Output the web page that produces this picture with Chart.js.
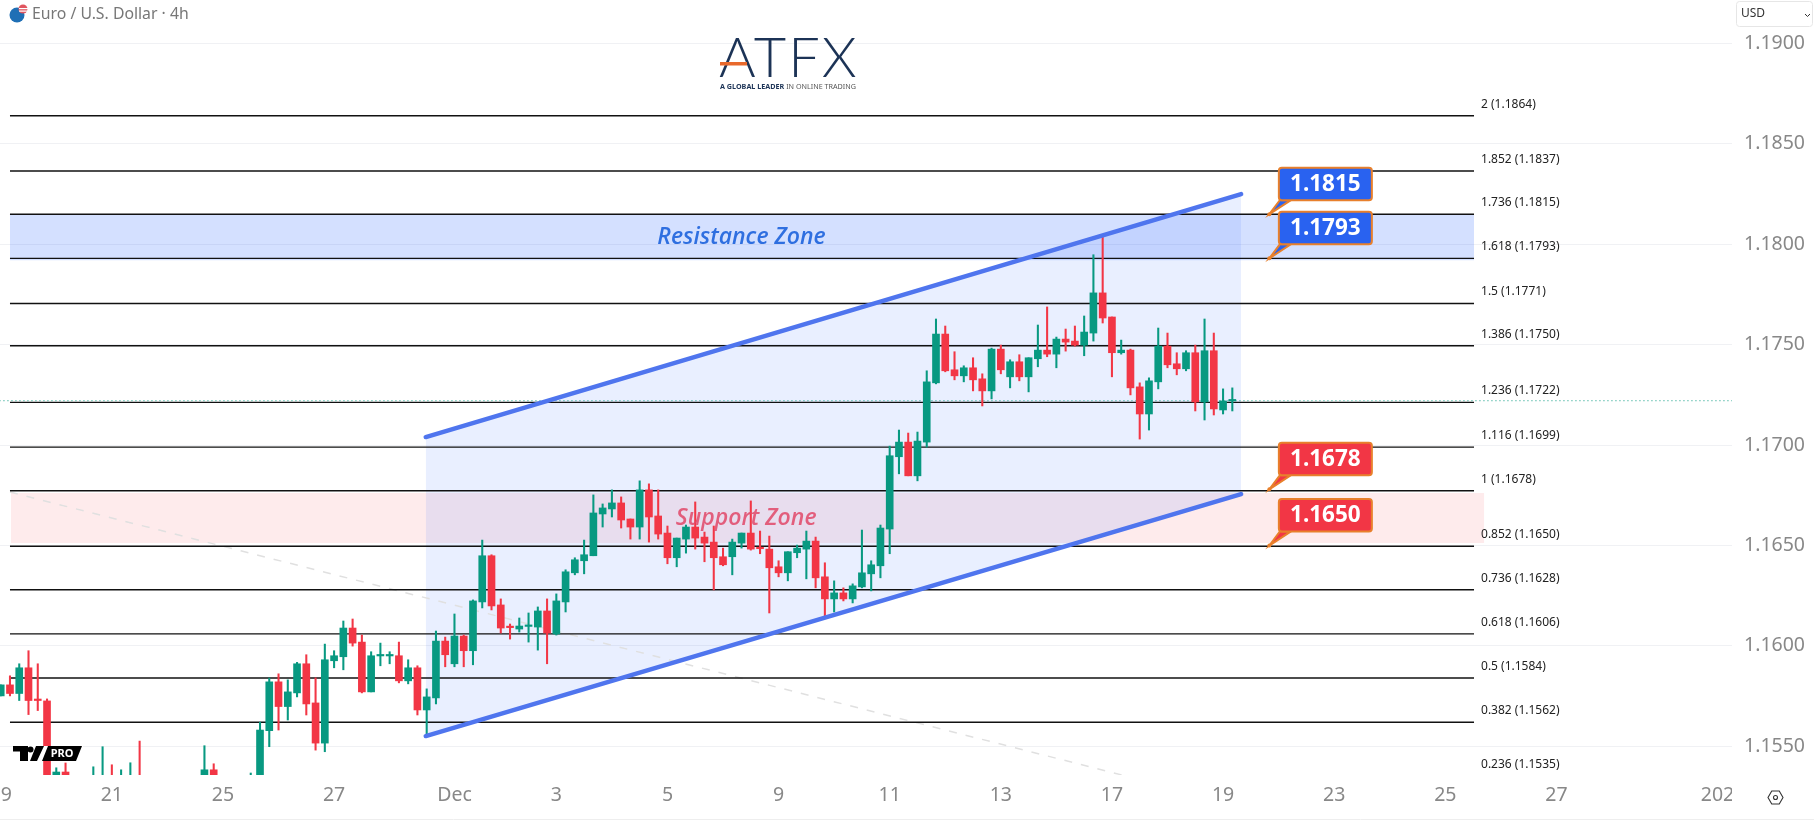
<!DOCTYPE html>
<html>
<head>
<meta charset="utf-8">
<title>Euro / U.S. Dollar 4h</title>
<script src="https://cdn.jsdelivr.net/npm/chart.js@4"></script>
<style>
  html, body { margin: 0; padding: 0; background: #fff; overflow: hidden; }
  #wrap { position: relative; width: 1814px; height: 821px; }
</style>
</head>
<body>
<div id="wrap"><canvas id="myChart"></canvas></div>
<script>
// candles, one entry per 4h bar (some sit below the visible range)
const opens = [1.15751,1.15806,1.15763,1.15891,1.15731,1.15726,1.15333,1.15372,1.15320,1.15285,
  1.15290,1.15300,1.15345,1.15290,1.15300,1.15340,1.15310,1.15300,1.15285,1.15310,
  1.15295,1.15320,1.15315,1.15383,1.15310,1.15325,1.15300,1.15330,1.15340,1.15578,
  1.15821,1.15698,1.15766,1.15911,1.15716,1.15516,1.15926,1.15946,1.16089,1.16019,
  1.15771,1.15950,1.15950,1.15951,1.15826,1.15891,1.15681,1.15741,1.16024,1.15911,
  1.16049,1.15976,1.16219,1.16449,1.16204,1.16094,1.16084,1.16097,1.16094,1.16174,
  1.16059,1.16219,1.16364,1.16424,1.16449,1.16657,1.16682,1.16712,1.16632,1.16592,
  1.16777,1.16647,1.16562,1.16439,1.16532,1.16592,1.16542,1.16517,1.16444,1.16444,
  1.16512,1.16562,1.16487,1.16482,1.16394,1.16364,1.16464,1.16482,1.16522,1.16344,
  1.16234,1.16264,1.16234,1.16294,1.16359,1.16399,1.16582,1.16942,1.17015,1.16847,
  1.17015,1.17310,1.17553,1.17375,1.17345,1.17385,1.17330,1.17270,1.17478,1.17340,
  1.17415,1.17340,1.17430,1.17473,1.17453,1.17528,1.17518,1.17498,1.17558,1.17758,
  1.17638,1.17460,1.17473,1.17290,1.17155,1.17315,1.17493,1.17405,1.17380,1.17460,
  1.17215,1.17470,1.17175,1.17220];
const highs = [1.15806,1.15851,1.15911,1.15976,1.15911,1.15736,1.15393,1.15417,1.15345,1.15340,
  1.15398,1.15498,1.15408,1.15383,1.15418,1.15526,1.15340,1.15335,1.15330,1.15345,
  1.15340,1.15350,1.15503,1.15413,1.15345,1.15350,1.15340,1.15367,1.15620,1.15840,
  1.15861,1.15831,1.15918,1.15956,1.15841,1.16009,1.15976,1.16124,1.16134,1.16054,
  1.15971,1.16014,1.15971,1.16019,1.15931,1.15901,1.15786,1.16074,1.16044,1.16159,
  1.16054,1.16229,1.16527,1.16454,1.16234,1.16109,1.16139,1.16164,1.16194,1.16234,
  1.16259,1.16379,1.16439,1.16527,1.16752,1.16707,1.16777,1.16742,1.16632,1.16822,
  1.16807,1.16777,1.16597,1.16537,1.16602,1.16717,1.16567,1.16597,1.16487,1.16532,
  1.16562,1.16722,1.16572,1.16547,1.16424,1.16469,1.16502,1.16572,1.16542,1.16414,
  1.16324,1.16289,1.16309,1.16577,1.16424,1.16602,1.16995,1.17075,1.17060,1.17065,
  1.17370,1.17628,1.17593,1.17465,1.17395,1.17435,1.17355,1.17483,1.17498,1.17425,
  1.17450,1.17435,1.17598,1.17688,1.17538,1.17578,1.17593,1.17643,1.17948,1.18043,
  1.17638,1.17523,1.17478,1.17310,1.17335,1.17583,1.17558,1.17460,1.17470,1.17498,
  1.17628,1.17558,1.17280,1.17285];
const lows = [1.15751,1.15751,1.15728,1.15658,1.15678,1.15323,1.15308,1.15303,1.15255,1.15230,
  1.15250,1.15270,1.15280,1.15260,1.15270,1.15280,1.15270,1.15260,1.15255,1.15275,
  1.15265,1.15280,1.15290,1.15280,1.15270,1.15280,1.15260,1.15290,1.15300,1.15498,
  1.15581,1.15631,1.15746,1.15656,1.15481,1.15473,1.15891,1.15881,1.15999,1.15766,
  1.15771,1.15901,1.15911,1.15816,1.15811,1.15656,1.15556,1.15711,1.15896,1.15896,
  1.15896,1.15906,1.16189,1.16179,1.16064,1.16034,1.16069,1.16019,1.15979,1.15911,
  1.16054,1.16169,1.16354,1.16359,1.16449,1.16592,1.16642,1.16587,1.16532,1.16532,
  1.16517,1.16532,1.16409,1.16394,1.16462,1.16482,1.16419,1.16279,1.16399,1.16354,
  1.16487,1.16477,1.16459,1.16164,1.16344,1.16324,1.16439,1.16334,1.16289,1.16149,
  1.16169,1.16224,1.16214,1.16289,1.16274,1.16339,1.16459,1.16857,1.16847,1.16822,
  1.16990,1.17305,1.17365,1.17325,1.17315,1.17270,1.17195,1.17230,1.17355,1.17285,
  1.17320,1.17265,1.17390,1.17440,1.17385,1.17468,1.17493,1.17445,1.17518,1.17608,
  1.17340,1.17453,1.17250,1.17030,1.17075,1.17280,1.17385,1.17350,1.17370,1.17170,
  1.17125,1.17150,1.17155,1.17170];
const closes = [1.15806,1.15763,1.15891,1.15728,1.15728,1.15353,1.15372,1.15323,1.15285,1.15310,
  1.15345,1.15340,1.15300,1.15320,1.15335,1.15310,1.15300,1.15285,1.15310,1.15295,
  1.15320,1.15330,1.15383,1.15310,1.15325,1.15300,1.15330,1.15350,1.15581,1.15821,
  1.15698,1.15771,1.15911,1.15711,1.15516,1.15931,1.15951,1.16089,1.16014,1.15771,
  1.15951,1.15951,1.15951,1.15826,1.15891,1.15681,1.15746,1.16024,1.15956,1.16049,
  1.15976,1.16224,1.16449,1.16199,1.16089,1.16091,1.16099,1.16099,1.16174,1.16064,
  1.16224,1.16369,1.16429,1.16454,1.16662,1.16687,1.16712,1.16627,1.16592,1.16777,
  1.16642,1.16557,1.16439,1.16537,1.16592,1.16537,1.16512,1.16439,1.16404,1.16517,
  1.16562,1.16482,1.16484,1.16389,1.16364,1.16469,1.16487,1.16522,1.16339,1.16234,
  1.16264,1.16234,1.16299,1.16364,1.16404,1.16587,1.16947,1.17015,1.16847,1.17020,
  1.17315,1.17553,1.17370,1.17345,1.17385,1.17325,1.17270,1.17478,1.17375,1.17415,
  1.17340,1.17435,1.17473,1.17453,1.17528,1.17513,1.17498,1.17563,1.17758,1.17633,
  1.17460,1.17473,1.17285,1.17155,1.17320,1.17493,1.17400,1.17380,1.17460,1.17215,
  1.17470,1.17180,1.17220,1.17222];

const priceTicks = [1.155, 1.16, 1.165, 1.17, 1.175, 1.18, 1.185, 1.19];
const timeTickBars = [0, 12, 24, 36, 49, 60, 72, 84, 96, 108, 120, 132, 144, 156, 168, 186];
const timeTickLabels = ["19", "21", "25", "27", "Dec", "3", "5", "9", "11", "13", "17", "19", "23", "25", "27", "2026"];

// fib levels: unrounded prices, the labels carry the rounded ones
const fibPrices = [1.1864, 1.18365, 1.1815, 1.1793, 1.17705, 1.17495, 1.17213, 1.1699, 1.16773, 1.16496, 1.1628, 1.1606, 1.1584, 1.1562, 1.1535];
const fibLabels = ["2 (1.1864)", "1.852 (1.1837)", "1.736 (1.1815)", "1.618 (1.1793)", "1.5 (1.1771)", "1.386 (1.1750)", "1.236 (1.1722)",
  "1.116 (1.1699)", "1 (1.1678)", "0.852 (1.1650)", "0.736 (1.1628)", "0.618 (1.1606)", "0.5 (1.1584)", "0.382 (1.1562)", "0.236 (1.1535)"];
const fibFromBar = 1, fibToBar = 159.1;

const channelBars = [45.9, 133.95];
const channelUpper = [1.17040, 1.18250];
const channelLower = [1.15551, 1.16756];
const resistanceZone = [1.18150, 1.17920];
const supportZone = [1.16761, 1.16512];
const trendBars = [1, 121.1];
const trendPrices = [1.16766, 1.15357];
const lastPrice = 1.17221;
const calloutBar = 137;
const callouts = [1.1815, 1.1793, 1.1678, 1.1650];
const calloutLabels = ["1.1815", "1.1793", "1.1678", "1.1650"];
const calloutColors = ["#2962f0", "#2962f0", "#f23645", "#f23645"];

const UP = "#089981", DOWN = "#f23645";
const candleColor = opens.map((o, i) => (closes[i] >= o ? UP : DOWN));
const pts = (xs, ys) => xs.map((x, i) => ({ x: x, y: ys[i] }));

const flat = (y) => [y, y];
const band = (fromBar, toBar, prices, color, order) => [
  { type: "line", data: pts([fromBar, toBar], flat(prices[0])), borderWidth: 0, pointRadius: 0, fill: "+1", backgroundColor: color, order: order },
  { type: "line", data: pts([fromBar, toBar], flat(prices[1])), borderWidth: 0, pointRadius: 0, fill: false, order: order + 1 }
];

const datasets = [];
// top of the stack first, "order" decides the painting
datasets.push({ type: "line", data: pts(channelBars, channelUpper), borderColor: "#4f75ee", borderWidth: 4.5, pointRadius: 0, borderCapStyle: "round", order: 1 });
datasets.push({ type: "line", data: pts(channelBars, channelLower), borderColor: "#4f75ee", borderWidth: 4.5, pointRadius: 0, borderCapStyle: "round", order: 2 });
datasets.push({ type: "bar", data: opens.map((o, i) => ({ x: i, y: [o, closes[i]] })), backgroundColor: candleColor, barThickness: 7, minBarLength: 1.5, grouped: false, order: 3 });
datasets.push({ type: "bar", data: opens.map((o, i) => ({ x: i, y: [lows[i], highs[i]] })), backgroundColor: candleColor, barThickness: 1.4, grouped: false, order: 4 });
datasets.push({ type: "line", data: pts([-1, 188], flat(lastPrice)), borderColor: UP, borderWidth: 1, borderDash: [1, 3], pointRadius: 0, order: 5 });
fibPrices.forEach((p, i) => {
  datasets.push({ type: "line", data: pts([fibFromBar, fibToBar], flat(p)), borderColor: "#111", borderWidth: 1.4, pointRadius: 0, order: 6 + i / 100 });
});
datasets.push({ type: "line", data: pts(trendBars, trendPrices), borderColor: "#e0e0e0", borderWidth: 1.5, borderDash: [8, 9], pointRadius: 0, order: 8 });
datasets.push({ type: "line", data: pts(channelBars, channelUpper), borderWidth: 0, pointRadius: 0, fill: "+1", backgroundColor: "rgba(41,98,255,0.1)", order: 9 });
datasets.push({ type: "line", data: pts(channelBars, channelLower), borderWidth: 0, pointRadius: 0, fill: false, order: 10 });
band(1, 159.1, resistanceZone, "rgba(41,98,255,0.2)", 11).forEach((d) => datasets.push(d));
band(1.1, 160.2, supportZone, "rgba(242,54,69,0.1)", 13).forEach((d) => datasets.push(d));

function roundBox(ctx, x, y, w, h, r) {
  ctx.beginPath();
  ctx.roundRect(x, y, w, h, r);
}

function drawLogo(ctx) {
  ctx.fillStyle = "#1c3356";
  ctx.font = "300 56px Lato";
  ctx.textAlign = "left";
  ctx.textBaseline = "alphabetic";
  ctx.letterSpacing = "2px";
  ctx.fillText("ATFX", 719, 77);
  ctx.letterSpacing = "0px";
  ctx.fillStyle = "#e8692c";
  ctx.fillRect(720, 62, 27, 3.5);
  ctx.fillStyle = "#1c3356";
  ctx.font = "bold 7.2px 'Noto Sans'";
  ctx.fillText("A GLOBAL LEADER", 720, 89);
  const w = ctx.measureText("A GLOBAL LEADER").width;
  ctx.font = "7.2px 'Noto Sans'";
  ctx.fillStyle = "#555";
  ctx.fillText(" IN ONLINE TRADING", 720 + w, 89);
}

function drawTvLogo(ctx) {
  ctx.fillStyle = "#fff";
  ctx.fillRect(13, 746, 70, 15);
  ctx.fillStyle = "#000";
  ctx.fillRect(13, 746, 15, 5.5);
  ctx.fillRect(20, 746, 8, 15);
  ctx.beginPath();
  ctx.arc(30.5, 749.5, 3, 0, Math.PI * 2);
  ctx.fill();
  const poly = (p) => {
    ctx.beginPath();
    p.forEach((q, i) => (i ? ctx.lineTo(q[0], q[1]) : ctx.moveTo(q[0], q[1])));
    ctx.closePath();
    ctx.fill();
  };
  poly([[36, 746], [44, 746], [37, 761], [30, 761]]);
  poly([[48, 746], [82, 746], [76, 761], [42, 761]]);
  ctx.fillStyle = "#fff";
  ctx.font = "bold 11px 'Noto Sans'";
  ctx.textAlign = "center";
  ctx.textBaseline = "middle";
  ctx.fillText("PRO", 62, 754);
}

function drawHeader(ctx) {
  ctx.fillStyle = "#1f6fb5";
  ctx.beginPath();
  ctx.arc(17, 15, 7.5, 0, Math.PI * 2);
  ctx.fill();
  ctx.fillStyle = "#e0555f";
  ctx.beginPath();
  ctx.arc(23, 9, 4.5, 0, Math.PI * 2);
  ctx.fill();
  ctx.fillStyle = "#fff";
  ctx.fillRect(19, 8, 9, 1.2);
  ctx.fillRect(19, 10.5, 9, 1.2);
  ctx.fillStyle = "#777";
  ctx.font = "15.8px 'Noto Sans'";
  ctx.textAlign = "left";
  ctx.textBaseline = "middle";
  ctx.fillText("Euro / U.S. Dollar · 4h", 32, 14);

  ctx.strokeStyle = "#e6e6e6";
  ctx.lineWidth = 1;
  roundBox(ctx, 1736.5, 1.5, 76, 25, 3);
  ctx.stroke();
  ctx.fillStyle = "#333";
  ctx.font = "12px 'Noto Sans'";
  ctx.fillText("USD", 1741, 14);
  ctx.strokeStyle = "#333";
  ctx.beginPath();
  ctx.moveTo(1805, 14);
  ctx.lineTo(1807.5, 16.5);
  ctx.lineTo(1810, 14);
  ctx.stroke();
}

function drawCallout(ctx, tipX, tipY, text, color) {
  const x = tipX + 9.5, y = tipY - 46.5, w = 93, h = 32.5;
  ctx.strokeStyle = "#e8802c";
  ctx.lineWidth = 2;
  ctx.beginPath();
  ctx.moveTo(tipX, tipY);
  ctx.lineTo(x + 1, y + h);
  ctx.lineTo(x + 12, y + h);
  ctx.closePath();
  ctx.fillStyle = color;
  ctx.fill();
  ctx.stroke();
  roundBox(ctx, x, y, w, h, 3);
  ctx.fill();
  ctx.stroke();
  ctx.fillStyle = "#fff";
  ctx.font = "bold 22.5px 'Noto Sans'";
  ctx.textAlign = "center";
  ctx.textBaseline = "middle";
  ctx.fillText(text, x + w / 2, y + h / 2 + 0.5);
  ctx.fillStyle = "#e8802c";
  ctx.beginPath();
  ctx.arc(tipX, tipY, 2, 0, Math.PI * 2);
  ctx.fill();
}

const overlay = {
  id: "overlay",
  afterDraw(chart) {
    const ctx = chart.ctx, xs = chart.scales.x, ys = chart.scales.y;
    ctx.save();
    // the year label runs under the price axis in the original
    ctx.fillStyle = "#fff";
    ctx.fillRect(1732, 776, 82, 45);
    ctx.strokeStyle = "#eeeeee";
    ctx.lineWidth = 1;
    ctx.beginPath();
    ctx.moveTo(0, 819.5);
    ctx.lineTo(1814, 819.5);
    ctx.stroke();

    ctx.fillStyle = "#222";
    ctx.font = "12px 'Noto Sans'";
    ctx.textAlign = "left";
    ctx.textBaseline = "middle";
    fibLabels.forEach((t, i) => {
      ctx.fillText(t, xs.getPixelForValue(fibToBar) + 7, ys.getPixelForValue(fibPrices[i]) - 11.5);
    });

    ctx.textAlign = "center";
    ctx.font = "italic 600 23px 'Open Sans'";
    ctx.fillStyle = "#2f6fe0";
    ctx.fillText("Resistance Zone", xs.getPixelForValue(80), ys.getPixelForValue(1.18035));
    ctx.fillStyle = "rgba(226,72,104,0.85)";
    ctx.font = "italic 600 23px 'Open Sans'";
    ctx.fillText("Support Zone", xs.getPixelForValue(80.5), ys.getPixelForValue(1.16635));

    callouts.forEach((p, i) => {
      drawCallout(ctx, xs.getPixelForValue(calloutBar), ys.getPixelForValue(p), calloutLabels[i], calloutColors[i]);
    });

    drawLogo(ctx);
    drawTvLogo(ctx);
    drawHeader(ctx);

    // settings glyph
    ctx.strokeStyle = "#333";
    ctx.lineWidth = 1.1;
    ctx.beginPath();
    for (let k = 0; k < 6; k++) {
      const a = Math.PI / 3 * k;
      const px = 1775.5 + 7.5 * Math.cos(a), py = 797.5 + 7.5 * Math.sin(a);
      if (k) ctx.lineTo(px, py); else ctx.moveTo(px, py);
    }
    ctx.closePath();
    ctx.stroke();
    ctx.beginPath();
    ctx.arc(1775.5, 797.5, 2, 0, Math.PI * 2);
    ctx.stroke();
    ctx.restore();
  }
};

const tickFont = { family: "'Noto Sans'", size: 19.5 };

new Chart(document.getElementById("myChart"), {
  type: "bar",
  data: { datasets: datasets },
  plugins: [overlay],
  options: {
    responsive: true,
    maintainAspectRatio: false,
    animation: false,
    layout: { padding: 0, autoPadding: false },
    plugins: { legend: { display: false }, tooltip: { enabled: false }, title: { display: false } },
    scales: {
      x: {
        type: "linear",
        offset: false,
        min: -0.078,
        max: 186.96,
        grid: { display: false, offset: false, drawTicks: false },
        border: { display: false },
        afterBuildTicks: (scale) => { scale.ticks = timeTickBars.map((v) => ({ value: v })); },
        afterFit: (scale) => { scale.height = 46; scale.paddingLeft = 0; scale.paddingRight = 0; },
        ticks: {
          autoSkip: false, maxRotation: 0, padding: 9, color: "#888888", font: tickFont,
          callback: (v) => timeTickLabels[timeTickBars.indexOf(v)]
        }
      },
      y: {
        position: "right",
        min: 1.153571,
        max: 1.192166,
        grid: { color: "#f0f1f4", lineWidth: 1, drawTicks: false },
        border: { display: false },
        afterBuildTicks: (scale) => { scale.ticks = priceTicks.map((v) => ({ value: v })); },
        afterFit: (scale) => { scale.width = 82; scale.paddingTop = 0; scale.paddingBottom = 0; },
        ticks: { padding: 12, color: "#888888", font: tickFont, callback: (v) => v.toFixed(4) }
      }
    }
  }
});
</script>
</body>
</html>
